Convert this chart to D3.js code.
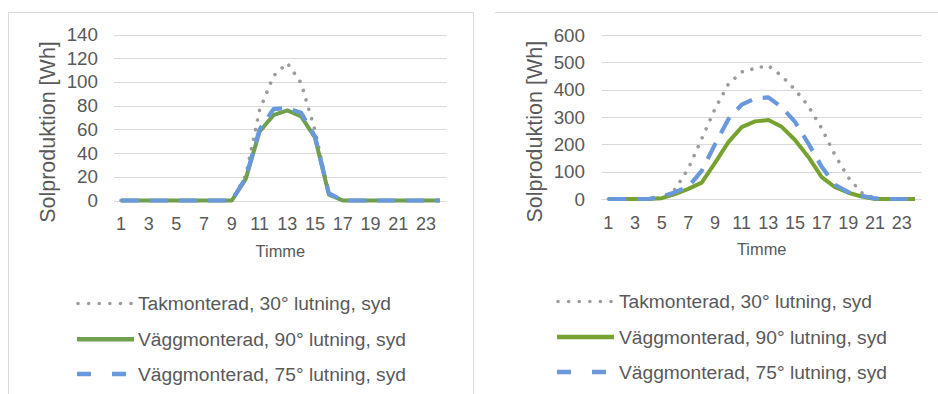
<!DOCTYPE html>
<html>
<head>
<meta charset="utf-8">
<script src="https://cdn.jsdelivr.net/npm/d3@7"></script>
<style>
  html, body { margin: 0; padding: 0; background: #ffffff; }
  svg { display: block; }
  text { font-family: "Liberation Sans", Arial, sans-serif; fill: #595959; }
</style>
</head>
<body>
<svg id="chart" width="938" height="394"></svg>
<script>
// Hours of the day (category axis) and the labelled ticks
const hours = [1, 2, 3, 4, 5, 6, 7, 8, 9, 10, 11, 12, 13, 14, 15, 16, 17, 18, 19, 20, 21, 22, 23, 24];
const hourTickLabels = [1, 3, 5, 7, 9, 11, 13, 15, 17, 19, 21, 23];

// Series names
const seriesNames = [
  "Takmonterad, 30° lutning, syd",
  "Väggmonterad, 90° lutning, syd",
  "Väggmonterad, 75° lutning, syd"
];

// Left chart: solar production per hour [Wh]
const leftTak    = [0, 0, 0, 0, 0, 0, 0, 0, 0, 21, 76, 105, 116, 99, 59, 6, 0, 0, 0, 0, 0, 0, 0, 0];
const leftVagg90 = [0, 0, 0, 0, 0, 0, 0, 0, 0, 18, 58, 72, 76, 71, 53, 5, 0, 0, 0, 0, 0, 0, 0, 0];
const leftVagg75 = [0, 0, 0, 0, 0, 0, 0, 0, 0, 19, 60, 77, 78, 74, 54, 6, 0, 0, 0, 0, 0, 0, 0, 0];
const leftYTicks = [0, 20, 40, 60, 80, 100, 120, 140];

// Right chart: solar production per hour [Wh]
const rightTak    = [0, 0, 0, 0, 5, 35, 112, 220, 330, 420, 465, 478, 488, 450, 400, 340, 258, 160, 78, 23, 3, 0, 0, 0];
const rightVagg90 = [0, 0, 0, 0, 3, 18, 37, 60, 132, 208, 263, 284, 289, 264, 216, 154, 80, 43, 23, 9, 0, 0, 0, 0];
const rightVagg75 = [0, 0, 0, 0, 8, 25, 45, 103, 200, 292, 345, 368, 372, 336, 282, 203, 118, 52, 25, 12, 2, 0, 0, 0];
const rightYTicks = [0, 100, 200, 300, 400, 500, 600];

const yTitle = "Solproduktion [Wh]";
const xTitle = "Timme";

const svg = d3.select("#chart");

// Frames around the chart areas
const frame = svg.append("g").attr("fill", "none").attr("stroke", "#d9d9d9").attr("stroke-width", 1);
frame.append("path").attr("d", "M8.5,400 V12.5 H473.5 V400");
frame.append("path").attr("d", "M495,12.5 H938");

const greyColor = "#9b9b9b";
const blueColor = "#6a98dd";

const panels = [
  {
    series: [leftTak, leftVagg90, leftVagg75], ticks: leftYTicks,
    x0: 114, x1: 446.7, yBottom: 200.5, yTop: 34.5,
    tickRight: 98, titleX: 54.5, titleY: 132, xTickDy: 29.5, xTitleY: 256.7,
    green: "#70a04e",
    legendX0: 77, legendX1: 132, legendTextX: 138, legendBase: [310, 345.8, 380.5]
  },
  {
    series: [rightTak, rightVagg90, rightVagg75], ticks: rightYTicks,
    x0: 601.7, x1: 921.7, yBottom: 199, yTop: 35,
    tickRight: 585, titleX: 542, titleY: 131.7, xTickDy: 29.5, xTitleY: 255,
    green: "#78a22f",
    legendX0: 557, legendX1: 612, legendTextX: 619, legendBase: [308, 343.5, 378.5]
  }
];

panels.forEach(p => {
  const g = svg.append("g");
  const x = d3.scaleBand().domain(hours).range([p.x0, p.x1]);
  const cx = h => x(h) + x.bandwidth() / 2;
  const y = d3.scaleLinear().domain([0, d3.max(p.ticks)]).range([p.yBottom, p.yTop]);

  // Horizontal gridlines
  g.append("g").selectAll("line").data(p.ticks).join("line")
    .attr("x1", p.x0).attr("x2", p.x1)
    .attr("y1", d => Math.round(y(d)) + 0.5).attr("y2", d => Math.round(y(d)) + 0.5)
    .attr("stroke", "#d9d9d9").attr("stroke-width", 1);

  // Y tick labels
  g.append("g").selectAll("text").data(p.ticks).join("text")
    .attr("x", p.tickRight).attr("y", d => y(d) + 6.5)
    .attr("text-anchor", "end").attr("font-size", 18.8).text(d => d);

  // X tick labels (odd hours)
  g.append("g").selectAll("text").data(hourTickLabels).join("text")
    .attr("x", d => cx(d)).attr("y", p.yBottom + p.xTickDy)
    .attr("text-anchor", "middle").attr("font-size", 18).text(d => d);

  // Axis titles
  g.append("text")
    .attr("transform", `translate(${p.titleX},${p.titleY}) rotate(-90)`)
    .attr("text-anchor", "middle").attr("font-size", 21.5).text(yTitle);
  g.append("text")
    .attr("x", (p.x0 + p.x1) / 2).attr("y", p.xTitleY)
    .attr("text-anchor", "middle").attr("font-size", 16.4).text(xTitle);

  const line = d3.line().x((d, i) => cx(hours[i])).y(d => y(d));

  const styles = [
    { color: greyColor, width: 3.6, dash: "0.01 9.8", cap: "round" },
    { color: p.green, width: 4, dash: null, cap: "butt" },
    { color: blueColor, width: 4.2, dash: "18 11", cap: "butt" }
  ];

  p.series.forEach((s, i) => {
    const st = styles[i];
    g.append("path").datum(s)
      .attr("d", line)
      .attr("fill", "none")
      .attr("stroke", st.color)
      .attr("stroke-width", st.width)
      .attr("stroke-linecap", st.cap)
      .attr("stroke-linejoin", "round")
      .attr("stroke-dasharray", st.dash);
  });

  // Legend
  const legendStyles = [
    { color: greyColor, width: 3.6, dash: "0.01 10.6", cap: "round", x0: p.legendX0 + 1, x1: p.legendX1 },
    { color: p.green, width: 4.6, dash: null, cap: "butt", x0: p.legendX0, x1: p.legendX1 + 2 },
    { color: blueColor, width: 4.6, dash: "14 21", cap: "butt", x0: p.legendX0, x1: p.legendX1 - 2 }
  ];
  const lg = g.append("g");
  seriesNames.forEach((name, i) => {
    const st = legendStyles[i];
    const base = p.legendBase[i];
    lg.append("line")
      .attr("x1", st.x0).attr("x2", st.x1)
      .attr("y1", base - 6.5).attr("y2", base - 6.5)
      .attr("stroke", st.color).attr("stroke-width", st.width)
      .attr("stroke-linecap", st.cap).attr("stroke-dasharray", st.dash);
    lg.append("text")
      .attr("x", p.legendTextX).attr("y", base)
      .attr("font-size", 19.2).text(name);
  });
});
</script>
</body>
</html>
